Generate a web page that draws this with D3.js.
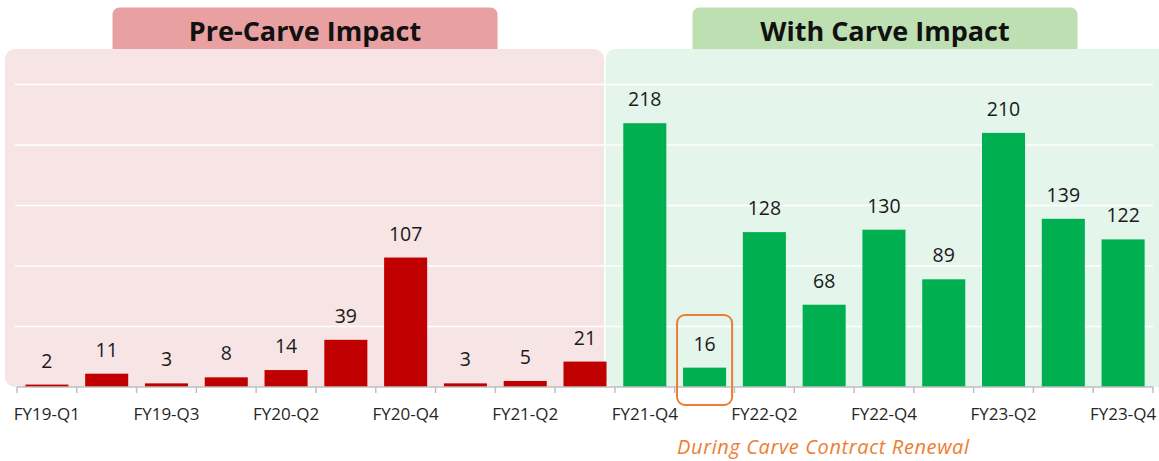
<!DOCTYPE html>
<html>
<head>
<meta charset="utf-8">
<script src="https://cdn.jsdelivr.net/npm/d3@7"></script>
<style>
  body { margin: 0; background: #fff; }
  svg { display: block; font-family: "Segoe UI", "Open Sans", sans-serif; }
</style>
</head>
<body>
<script>
// quarters (every other one is labelled on the axis)
var quarters = ["FY19-Q1", "FY19-Q2", "FY19-Q3", "FY19-Q4", "FY20-Q2", "FY20-Q3", "FY20-Q4",
                "FY21-Q1", "FY21-Q2", "FY21-Q3", "FY21-Q4", "FY22-Q1", "FY22-Q2", "FY22-Q3",
                "FY22-Q4", "FY23-Q1", "FY23-Q2", "FY23-Q3", "FY23-Q4"];
var shownLabels = ["FY19-Q1", "FY19-Q3", "FY20-Q2", "FY20-Q4", "FY21-Q2",
                   "FY21-Q4", "FY22-Q2", "FY22-Q4", "FY23-Q2", "FY23-Q4"];
var preCarve = [2, 11, 3, 8, 14, 39, 107, 3, 5, 21];
var withCarve = [218, 16, 128, 68, 130, 89, 210, 139, 122];
var gridValues = [50, 100, 150, 200, 250];
var groupTitles = ["Pre-Carve Impact", "With Carve Impact"];
var noteText = "During Carve Contract Renewal";
var noteIndex = 11;

window.onload = drawChart();

function drawChart() {
    var width = 1159,
        height = 461;

    var svg = d3.select("body")
        .append("svg")
        .attr("width", width)
        .attr("height", height);

    //join the two series into one row per bar
    var rows = quarters.map(function(q, i){
        var pre = i < preCarve.length;
        return { q: q, v: pre ? preCarve[i] : withCarve[i - preCarve.length], pre: pre };
    });

    var x = d3.scaleBand()
        .domain(quarters)
        .range([17, 1153])
        .paddingInner(0.28)
        .paddingOuter(0.14);

    var y = d3.scaleLinear()
        .domain([0, 250])
        .range([387, 84.5]);

    //header tabs (drawn under the panels)
    var tabs = [
        { x0: 112.5, x1: 497.5, fill: "#E8A0A1" },
        { x0: 692.5, x1: 1077.5, fill: "#BDDFB1" }
    ];
    svg.selectAll(".tab")
        .data(tabs)
        .enter()
        .append("rect")
        .attr("class", "tab")
        .attr("x", function(d){ return d.x0; })
        .attr("y", 7.5)
        .attr("width", function(d){ return d.x1 - d.x0; })
        .attr("height", 50)
        .attr("rx", 7)
        .attr("fill", function(d){ return d.fill; });

    svg.selectAll(".tabText")
        .data(tabs)
        .enter()
        .append("text")
        .attr("class", "tabText")
        .attr("x", function(d){ return (d.x0 + d.x1) / 2; })
        .attr("y", 41)
        .attr("text-anchor", "middle")
        .attr("font-size", 27)
        .attr("font-weight", 700)
        .attr("fill", "#111")
        .text(function(d, i){ return groupTitles[i]; });

    //background panels
    var panels = [
        { x0: 5, x1: 604, fill: "#F7E4E5" },
        { x0: 605.5, x1: 1168, fill: "#E4F5EC" }
    ];
    svg.selectAll(".panel")
        .data(panels)
        .enter()
        .append("rect")
        .attr("class", "panel")
        .attr("x", function(d){ return d.x0; })
        .attr("y", 49)
        .attr("width", function(d){ return d.x1 - d.x0; })
        .attr("height", 338)
        .attr("rx", 10)
        .attr("fill", function(d){ return d.fill; });

    //gridlines
    svg.selectAll(".grid")
        .data(gridValues)
        .enter()
        .append("line")
        .attr("class", "grid")
        .attr("x1", 15)
        .attr("x2", 1153)
        .attr("y1", function(d){ return y(d); })
        .attr("y2", function(d){ return y(d); })
        .attr("stroke", "#fff")
        .attr("stroke-width", 1.5);

    //bars
    svg.selectAll(".bar")
        .data(rows)
        .enter()
        .append("rect")
        .attr("class", "bar")
        .attr("x", function(d){ return x(d.q); })
        .attr("y", function(d){ return y(d.v); })
        .attr("width", x.bandwidth())
        .attr("height", function(d){ return y(0) - y(d.v); })
        .attr("fill", function(d){ return d.pre ? "#C00000" : "#00B050"; });

    //value labels
    svg.selectAll(".val")
        .data(rows)
        .enter()
        .append("text")
        .attr("class", "val")
        .attr("x", function(d){ return x(d.q) + x.bandwidth() / 2; })
        .attr("y", function(d){ return y(d.v) - 17; })
        .attr("text-anchor", "middle")
        .attr("font-size", 19.5)
        .attr("fill", "#1a1a1a")
        .text(function(d){ return d.v; });

    //x axis: line, ticks at band edges, every other label
    var step = x.step();
    var edges = d3.range(quarters.length + 1).map(function(i){ return 17 + i * step; });
    var axis = svg.append("g").attr("class", "axis");
    axis.append("line")
        .attr("x1", 17).attr("x2", 1153)
        .attr("y1", y(0)).attr("y2", y(0))
        .attr("stroke", "#BFBFBF")
        .attr("stroke-width", 1.5);
    axis.selectAll(".tick")
        .data(edges)
        .enter()
        .append("line")
        .attr("class", "tick")
        .attr("x1", function(d){ return d; })
        .attr("x2", function(d){ return d; })
        .attr("y1", y(0))
        .attr("y2", y(0) + 6)
        .attr("stroke", "#BFBFBF")
        .attr("stroke-width", 1.5);
    axis.selectAll(".lbl")
        .data(shownLabels)
        .enter()
        .append("text")
        .attr("class", "lbl")
        .attr("x", function(d){ return x(d) + x.bandwidth() / 2; })
        .attr("y", 420)
        .attr("text-anchor", "middle")
        .attr("font-size", 17)
        .attr("fill", "#262626")
        .text(function(d){ return d; });

    //callout around the renewal quarter
    var noteQ = quarters[noteIndex];
    svg.append("rect")
        .attr("x", x(noteQ) - 6)
        .attr("y", 315)
        .attr("width", x.bandwidth() + 12)
        .attr("height", 90)
        .attr("rx", 8)
        .attr("fill", "none")
        .attr("stroke", "#ED7D31")
        .attr("stroke-width", 2);

    svg.append("text")
        .attr("x", x(noteQ) - 6)
        .attr("y", 454)
        .attr("font-size", 20)
        .attr("font-style", "italic")
        .attr("fill", "#ED7D31")
        .attr("textLength", 292)
        .attr("lengthAdjust", "spacing")
        .text(noteText);
}
</script>
</body>
</html>
